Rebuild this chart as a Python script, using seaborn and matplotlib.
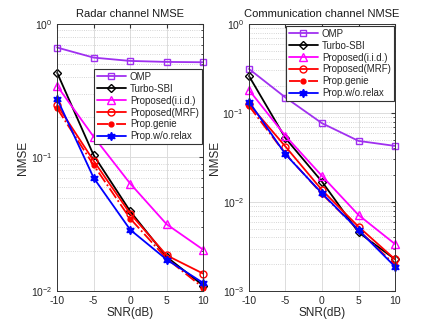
import matplotlib
matplotlib.use("Agg")
import matplotlib.pyplot as plt
import seaborn as sns

sns.set_style("white")
plt.rcParams['font.family'] = ['Liberation Sans', 'DejaVu Sans']

snr = [-10, -5, 0, 5, 10]
methods = ["OMP", "Turbo-SBI", "Proposed(i.i.d.)", "Proposed(MRF)", "Prop.genie", "Prop.w/o.relax"]

# radar channel NMSE
radar_omp = [0.665, 0.559, 0.528, 0.519, 0.516]
radar_turbo = [0.431, 0.104, 0.0396, 0.018, 0.011]
radar_iid = [0.343, 0.143, 0.0638, 0.0316, 0.0204]
radar_mrf = [0.247, 0.0944, 0.038, 0.0185, 0.0135]
radar_genie = [0.233, 0.0876, 0.0349, 0.0175, 0.0106]
radar_norelax = [0.275, 0.0704, 0.0288, 0.0172, 0.0115]

# communication channel NMSE
comm_omp = [0.312, 0.149, 0.0766, 0.0485, 0.0426]
comm_turbo = [0.26, 0.052, 0.0169, 0.00456, 0.00227]
comm_iid = [0.181, 0.0552, 0.0196, 0.00714, 0.00337]
comm_mrf = [0.126, 0.0419, 0.0136, 0.00528, 0.00227]
comm_genie = [0.12, 0.0347, 0.0123, 0.00485, 0.00196]
comm_norelax = [0.134, 0.0343, 0.0125, 0.00484, 0.00188]

styles = [
    dict(color="#A030F0", marker="s", ls="-", mfc="none", ms=5),
    dict(color="black", marker="D", ls="-", mfc="none", ms=4),
    dict(color="#FF00FF", marker="^", ls="-", mfc="none", ms=6),
    dict(color="#FF0000", marker="o", ls="-", mfc="none", ms=5),
    dict(color="#FF0000", marker="o", ls="-.", mfc="#FF0000", ms=3.5),
    dict(color="#0000FF", marker=(6, 1, 0), ls="-", mfc="#0000FF", ms=6),
]

fig = plt.figure(figsize=(4.36, 3.27), dpi=100)
ax1 = fig.add_axes([0.131, 0.110, 0.335, 0.817])
ax2 = fig.add_axes([0.571, 0.110, 0.335, 0.817])


def draw(ax, series, title, ylim, anchor):
    for name, vals, st in zip(methods, series, styles):
        sns.lineplot(x=snr, y=vals, ax=ax, label=name, color=st["color"],
                     marker=st["marker"], linestyle=st["ls"], markersize=st["ms"],
                     markerfacecolor=st["mfc"], markeredgecolor=st["color"],
                     markeredgewidth=1.0, linewidth=1.3, clip_on=False, zorder=3)
    ax.set_yscale("log")
    ax.set_xlim(-10, 10)
    ax.set_ylim(*ylim)
    ax.set_xticks(snr)
    ax.set_xticklabels([str(s) for s in snr])
    ax.grid(True, which="major", color="#dcdcdc", lw=0.7, ls="-")
    ax.grid(True, which="minor", axis="y", color="#c8c8c8", lw=0.6, ls=":")
    ax.tick_params(which="both", direction="in", top=True, right=True, labelsize=7.5,
                   color="#333333", labelcolor="#262626", length=3)
    ax.tick_params(which="minor", length=1.5)
    for sp in ax.spines.values():
        sp.set_color("#333333")
        sp.set_linewidth(0.7)
        sp.set_zorder(4)
    ax.set_title(title, fontsize=8, pad=5, color="#1a1a1a")
    ax.set_xlabel("SNR(dB)", fontsize=8.5, labelpad=1, color="#262626")
    ax.set_ylabel("NMSE", fontsize=8.5, labelpad=1, color="#262626")
    leg = ax.legend(loc="upper right", bbox_to_anchor=anchor, fontsize=7,
                    frameon=True, fancybox=False, framealpha=1,
                    handlelength=3.0, borderpad=0.3, labelspacing=0.2,
                    handletextpad=0.4, borderaxespad=0.0)
    leg.get_frame().set_edgecolor("#333333")
    leg.get_frame().set_linewidth(0.8)
    leg.set_zorder(5)


draw(ax1, [radar_omp, radar_turbo, radar_iid, radar_mrf, radar_genie, radar_norelax],
     "Radar channel NMSE", (1e-2, 1), (0.99, 0.832))
draw(ax2, [comm_omp, comm_turbo, comm_iid, comm_mrf, comm_genie, comm_norelax],
     "Communication channel NMSE", (1e-3, 1), (0.99, 0.993))

fig.savefig("out.png", dpi=100)
